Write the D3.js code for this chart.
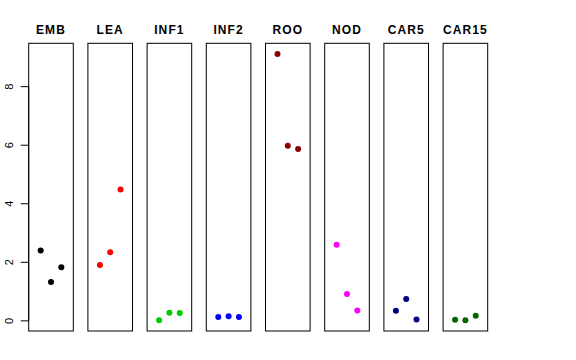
<!DOCTYPE html>
<html><head><meta charset="utf-8">
<script src="https://cdn.jsdelivr.net/npm/d3@7"></script>
<style>body{margin:0;background:#fff}svg{display:block}</style>
</head><body>
<script>
const categories = ["EMB","LEA","INF1","INF2","ROO","NOD","CAR5","CAR15"];
const colors = ["#000000","#ff0000","#00cd00","#0000ff","#8b0000","#ff00ff","#000080","#006400"];
const valuesEMB = [2.39, 1.31, 1.81];
const valuesLEA = [1.89, 2.33, 4.47];
const valuesINF1 = [0.0, 0.26, 0.25];
const valuesINF2 = [0.11, 0.14, 0.11];
const valuesROO = [9.1, 5.96, 5.85];
const valuesNOD = [2.58, 0.90, 0.34];
const valuesCAR5 = [0.33, 0.73, 0.03];
const valuesCAR15 = [0.02, 0.0, 0.16];
const yTicks = [0, 2, 4, 6, 8];
const series = [valuesEMB, valuesLEA, valuesINF1, valuesINF2, valuesROO, valuesNOD, valuesCAR5, valuesCAR15];

(function () {
const W = 576, H = 360;
const svg = d3.select("body").append("svg").attr("width", W).attr("height", H);

const plotTop = 43.3, plotBottom = 331;
const panelW = 44.6, firstLeft = 28.7, step = 59.2;
const y = d3.scaleLinear().domain([-0.364, 9.464]).range([plotBottom, plotTop]);

categories.forEach((cat, i) => {
  const left = firstLeft + i * step;
  const g = svg.append("g");
  const x = d3.scaleLinear().domain([-0.16, 4.16]).range([left, left + panelW]);
  g.append("rect").attr("x", left).attr("y", plotTop).attr("width", panelW).attr("height", plotBottom - plotTop)
    .attr("fill", "none").attr("stroke", "#000").attr("stroke-width", 1);
  g.append("text").attr("x", left + panelW / 2).attr("y", 34).attr("text-anchor", "middle")
    .attr("font-family", "Liberation Sans, Arial, sans-serif").attr("font-weight", "bold").attr("font-size", 12)
    .attr("letter-spacing", 1.1)
    .text(cat);
  g.selectAll("circle").data(series[i]).enter().append("circle")
    .attr("cx", (d, j) => x(j + 1)).attr("cy", d => y(d)).attr("r", 3).attr("fill", colors[i]);
});

const axis = d3.axisLeft(y).tickValues(yTicks).tickSize(8).tickPadding(4).tickFormat(d3.format("d"));
const ag = svg.append("g").attr("transform", `translate(${firstLeft},0)`).call(axis);
ag.select(".domain").attr("d", `M0,${y(0)}V${y(8)}`).attr("stroke", "#000");
ag.selectAll(".tick line").attr("stroke", "#000");
ag.selectAll(".tick text")
  .attr("font-family", "Liberation Sans, Arial, sans-serif").attr("font-size", 11).attr("fill", "#000")
  .attr("x", null).attr("dy", null)
  .attr("text-anchor", "middle")
  .attr("transform", "translate(-16,0) rotate(-90)");
})();
</script>
</body></html>
